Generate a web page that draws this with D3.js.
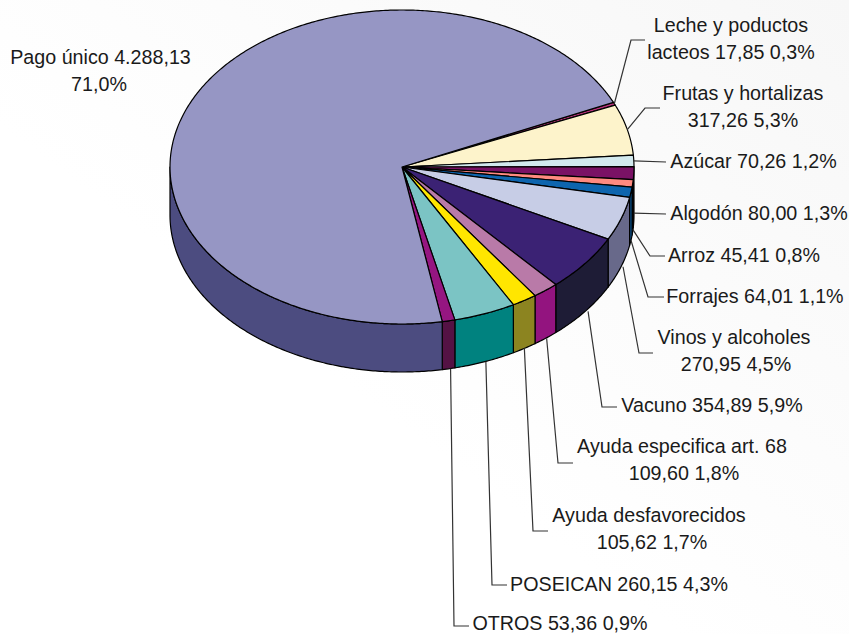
<!DOCTYPE html>
<html>
<head>
<meta charset="utf-8">
<style>
  html, body { margin: 0; padding: 0; background: #fff; }
  .label { font-family: "Liberation Sans", Arial, sans-serif; font-size: 19.7px; fill: #1a1a1a; }
</style>
<script src="https://cdn.jsdelivr.net/npm/d3@7"></script>
</head>
<body>
<div class="chart"></div>
<script>
var categories = ["Leche y poductos lacteos", "Frutas y hortalizas", "Azúcar", "Algodón", "Arroz", "Forrajes",
  "Vinos y alcoholes", "Vacuno", "Ayuda especifica art. 68", "Ayuda desfavorecidos", "POSEICAN", "OTROS", "Pago único"];
var values = [17.85, 317.26, 70.26, 80.00, 45.41, 64.01, 270.95, 354.89, 109.60, 105.62, 260.15, 53.36, 4288.13];
var valueLabels = ["17,85", "317,26", "70,26", "80,00", "45,41", "64,01", "270,95", "354,89", "109,60", "105,62", "260,15", "53,36", "4.288,13"];
var shareLabels = ["0,3%", "5,3%", "1,2%", "1,3%", "0,8%", "1,1%", "4,5%", "5,9%", "1,8%", "1,7%", "4,3%", "0,9%", "71,0%"];

var topColors = ["#b8337a", "#fdf3cb", "#d2e9ee", "#7a1265", "#ff8a80", "#0e65ae", "#c7cde6", "#3b2274", "#b97aa8", "#ffe600", "#7bc4c4", "#951681", "#9696c4"];
var sideColors = ["#7a2350", "#b5ad90", "#95a6aa", "#5a0e4a", "#cc6e66", "#0b5a9c", "#68698a", "#1e1c36", "#93147f", "#8c8420", "#00827f", "#541244", "#4c4c80"];

// label text lines, centre x (x2 = second line if it sits differently), first baseline
var labelLayout = [
  { lines: function(v, s) { return ["Leche y poductos", "lacteos " + v + " " + s]; }, x: 731, y: 32 },
  { lines: function(v, s) { return ["Frutas y hortalizas", v + " " + s]; }, x: 743, y: 100 },
  { lines: function(v, s) { return ["Azúcar " + v + " " + s]; }, x: 753.5, y: 168 },
  { lines: function(v, s) { return ["Algodón " + v + " " + s]; }, x: 759, y: 220 },
  { lines: function(v, s) { return ["Arroz " + v + " " + s]; }, x: 744, y: 262 },
  { lines: function(v, s) { return ["Forrajes " + v + " " + s]; }, x: 755, y: 303 },
  { lines: function(v, s) { return ["Vinos y alcoholes", v + " " + s]; }, x: 734, x2: 736, y: 344 },
  { lines: function(v, s) { return ["Vacuno " + v + " " + s]; }, x: 712, y: 412 },
  { lines: function(v, s) { return ["Ayuda especifica art. 68", v + " " + s]; }, x: 682, x2: 684, y: 453 },
  { lines: function(v, s) { return ["Ayuda desfavorecidos", v + " " + s]; }, x: 649, x2: 652, y: 522 },
  { lines: function(v, s) { return ["POSEICAN " + v + " " + s]; }, x: 619, y: 591 },
  { lines: function(v, s) { return ["OTROS " + v + " " + s]; }, x: 560, y: 630 },
  { lines: function(v, s) { return ["Pago único " + v, s]; }, x: 100.5, x2: 99, y: 64 }
];

// leader elbows: drop = how far down the rim the line starts, shift = sideways nudge, pts = rest of the line
var leaderLayout = [
  { drop: 0, shift: 0, pts: [[631, 40], [645, 40]] },
  { drop: 0, shift: 0, pts: [[645, 108], [660, 108]] },
  { drop: 0, shift: 0, pts: [[666, 162]] },
  { drop: 40, shift: 0, pts: [[666, 214]] },
  { drop: 46, shift: 0, pts: [[650, 256], [665, 256]] },
  { drop: 48, shift: 0, pts: [[648, 297], [664, 297]] },
  { drop: 48, shift: 2, pts: [[639, 353], [653, 353]] },
  { drop: 48, shift: 3, pts: [[602, 407], [617, 407]] },
  { drop: 48, shift: 1, pts: [[558, 463], [573, 463]] },
  { drop: 48, shift: 0, pts: [[533, 531], [548, 531]] },
  { drop: 48, shift: 1, pts: [[492, 585], [507, 585]] },
  { drop: 48, shift: 2, pts: [[454, 626], [469, 626]] },
  null
];

var svgWidth = 849;
var svgHeight = 634;

var cx = 402;
var cy = 167;
var rx = 232;
var ry = 157;
var depth = 48;
var startDeg = 65.7;

var svg = d3
  .select(".chart")
  .append("svg")
  .attr("width", svgWidth)
  .attr("height", svgHeight)
  .style("display", "block");

var grad = svg.append("defs")
  .append("linearGradient")
  .attr("id", "bg")
  .attr("x1", "100%")
  .attr("y1", "0%")
  .attr("x2", "0%")
  .attr("y2", "100%");
grad.append("stop").attr("offset", "0%").attr("stop-color", "#f7f7f7");
grad.append("stop").attr("offset", "60%").attr("stop-color", "#ffffff");

svg.append("rect")
  .attr("width", svgWidth)
  .attr("height", svgHeight)
  .attr("fill", "url(#bg)");

var start = startDeg * Math.PI / 180;

var slices = d3.pie()
  .sort(null)
  .startAngle(start)
  .endAngle(start + 2 * Math.PI)(values);

function rimX(a) { return cx + rx * Math.sin(a); }
function rimY(a) { return cy - ry * Math.cos(a); }

// points along the rim between two angles
function rimPoints(a0, a1) {
  var n = Math.max(2, Math.ceil(Math.abs(a1 - a0) / 0.01));
  return d3.range(n + 1).map(function(i) {
    var a = a0 + (a1 - a0) * i / n;
    return [rimX(a), rimY(a)];
  });
}

var line = d3.line();

// walls: only the part of the rim facing the viewer
var walls = svg.append("g");
slices.forEach(function(s, i) {
  var spans = [[s.startAngle, s.endAngle], [s.startAngle + 2 * Math.PI, s.endAngle + 2 * Math.PI]];
  spans.forEach(function(span) {
    var a0 = Math.max(span[0], Math.PI / 2);
    var a1 = Math.min(span[1], 3 * Math.PI / 2);
    if (a1 <= a0) return;
    var upper = rimPoints(a0, a1);
    var lower = upper.map(function(p) { return [p[0], p[1] + depth]; }).reverse();
    walls.append("path")
      .attr("d", line(upper.concat(lower)) + "Z")
      .attr("fill", sideColors[i])
      .attr("stroke", "#000")
      .attr("stroke-width", 1.2)
      .attr("stroke-linejoin", "round");
  });
});

// top faces
svg.append("g")
  .selectAll("path")
  .data(slices)
  .enter()
  .append("path")
  .attr("d", function(s) {
    return line([[cx, cy]].concat(rimPoints(s.startAngle, s.endAngle))) + "Z";
  })
  .attr("fill", function(s, i) { return topColors[i]; })
  .attr("stroke", "#000")
  .attr("stroke-width", 1.2)
  .attr("stroke-linejoin", "round");

// leader lines
svg.append("g")
  .selectAll("path")
  .data(slices.filter(function(s, i) { return leaderLayout[i]; }))
  .enter()
  .append("path")
  .attr("d", function(s) {
    var l = leaderLayout[s.index];
    var mid = (s.startAngle + s.endAngle) / 2;
    return line([[rimX(mid) + l.shift, rimY(mid) + l.drop]].concat(l.pts));
  })
  .attr("fill", "none")
  .attr("stroke", "#333")
  .attr("stroke-width", 1.2);

// labels
var labels = svg.append("g")
  .selectAll("text")
  .data(categories)
  .enter()
  .append("text")
  .attr("class", "label")
  .attr("text-anchor", "middle");

labels.each(function(d, i) {
  var l = labelLayout[i];
  d3.select(this)
    .selectAll("tspan")
    .data(l.lines(valueLabels[i], shareLabels[i]))
    .enter()
    .append("tspan")
    .attr("x", function(t, j) { return j && l.x2 ? l.x2 : l.x; })
    .attr("y", function(t, j) { return l.y + j * 27; })
    .text(function(t) { return t; });
});
</script>
</body>
</html>
